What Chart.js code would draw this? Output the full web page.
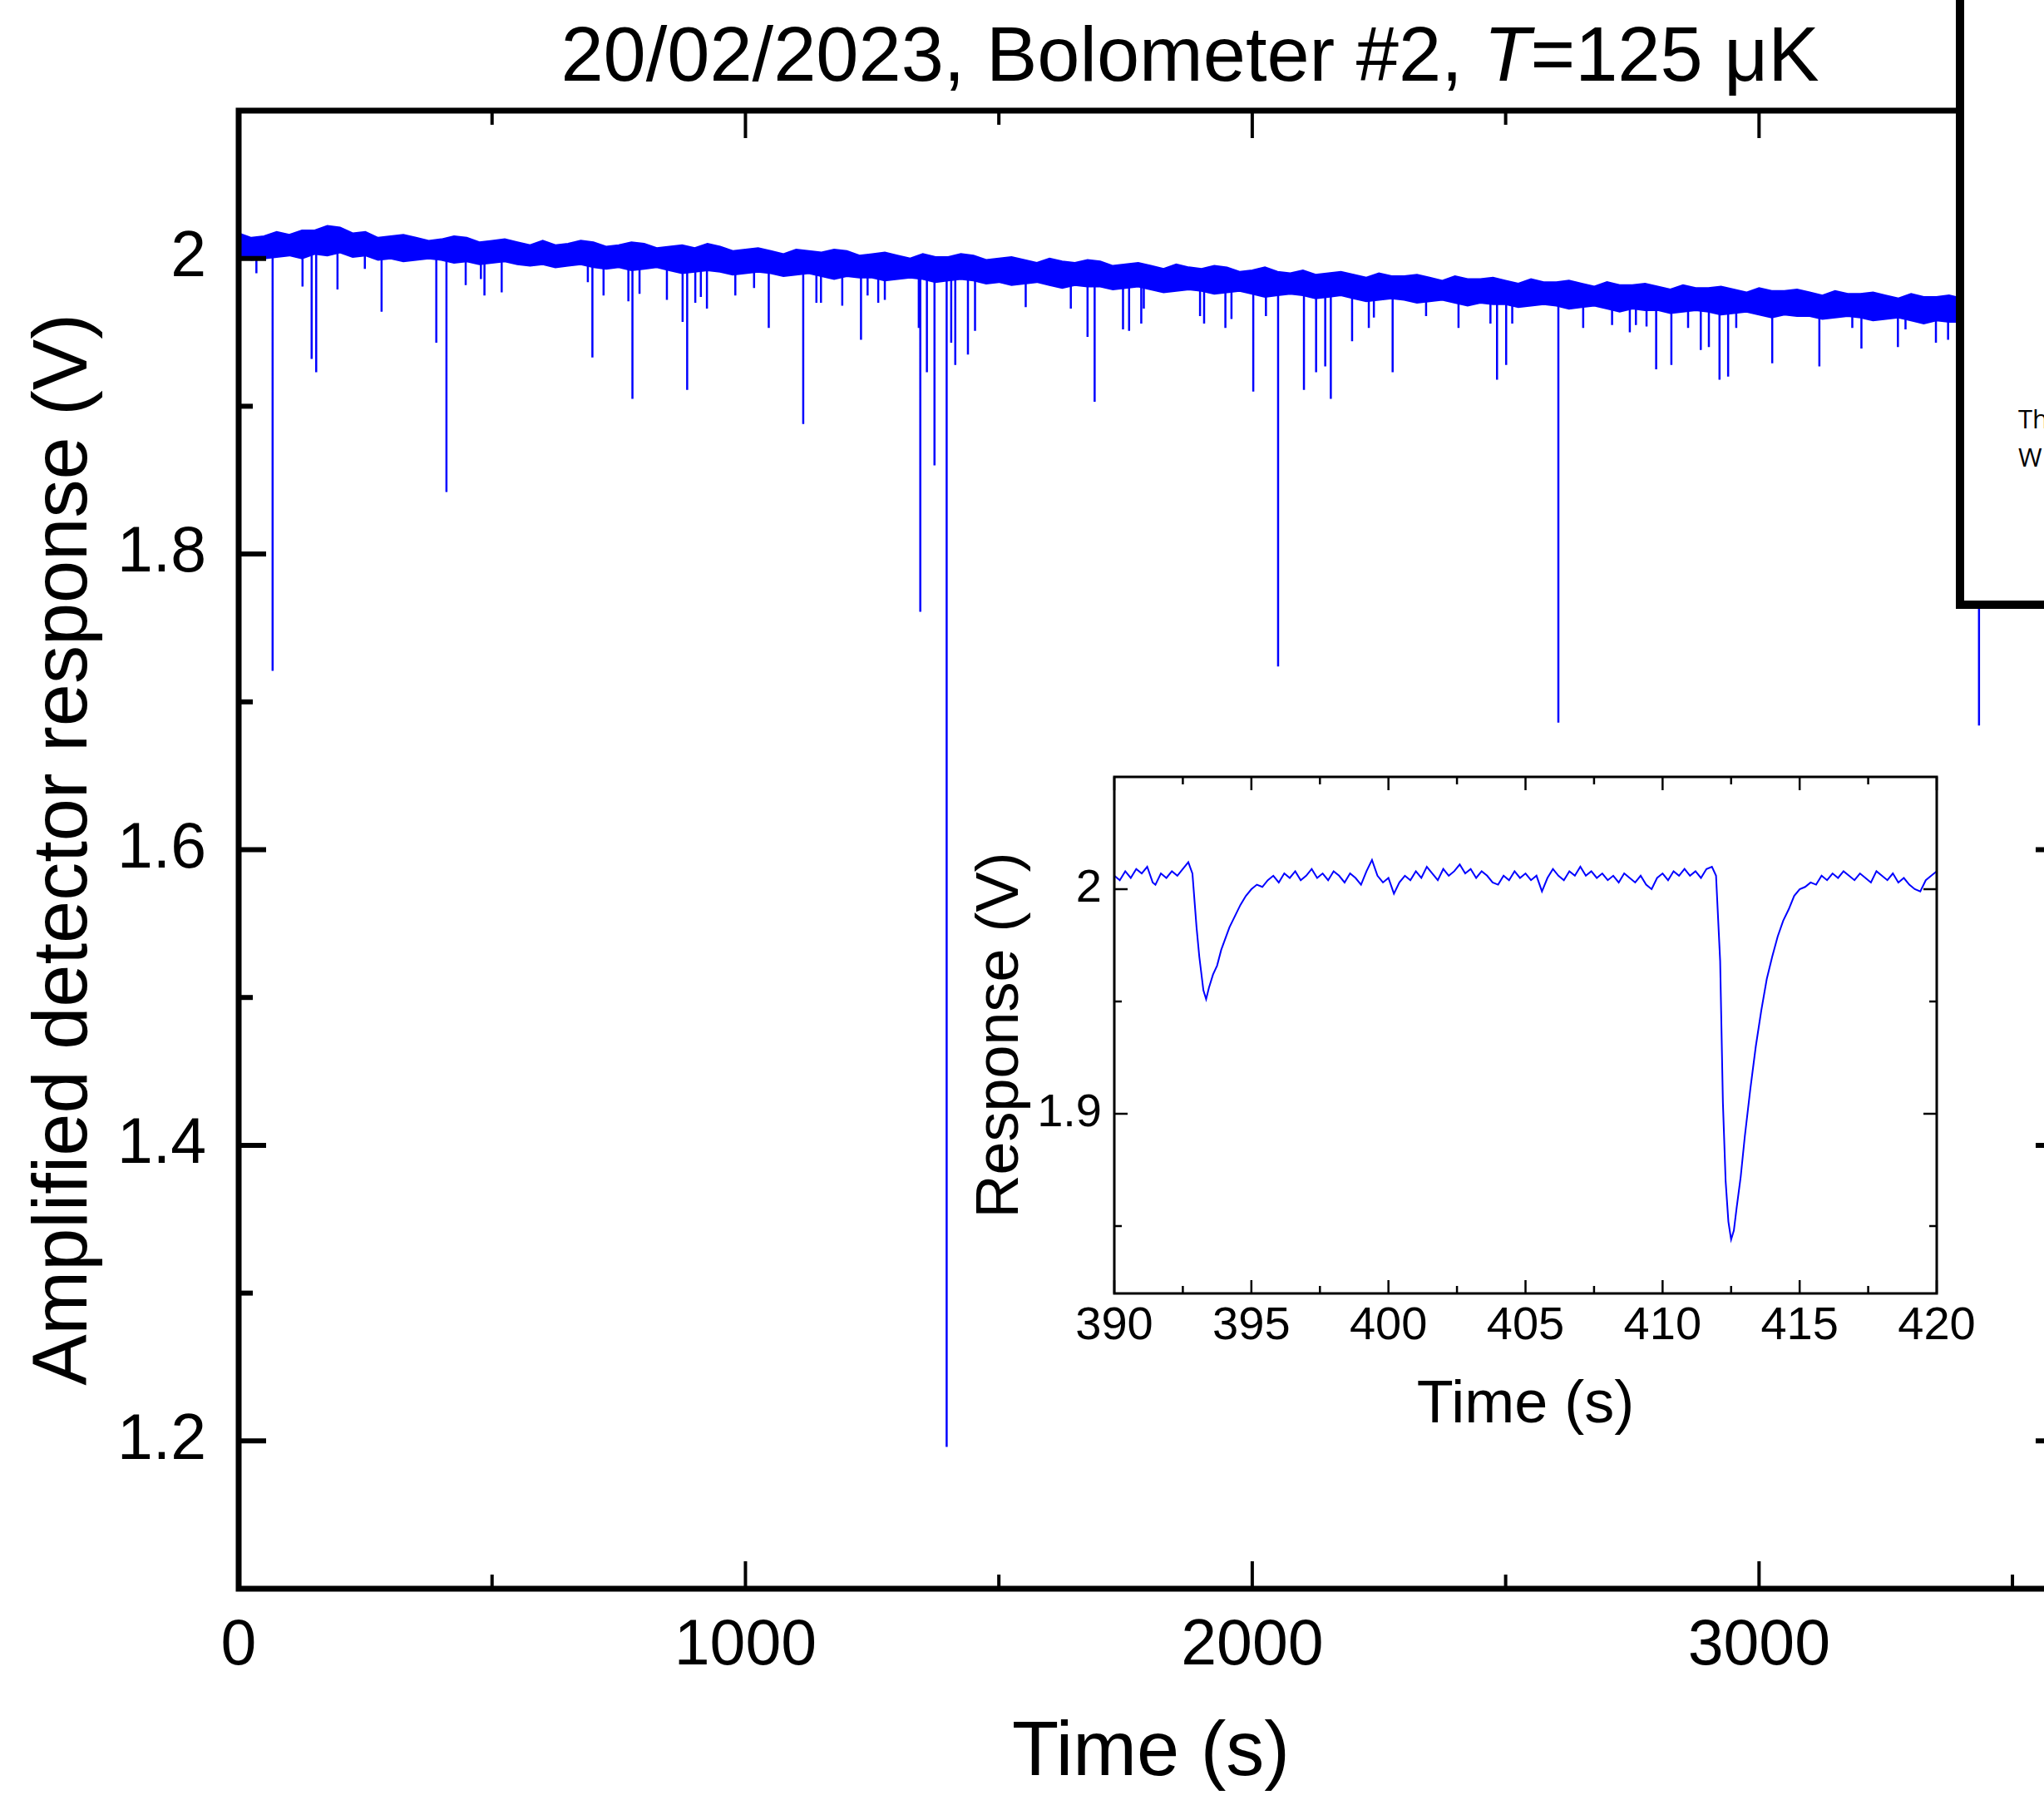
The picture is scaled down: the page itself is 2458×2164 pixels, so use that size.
<!DOCTYPE html>
<html>
<head>
<meta charset="utf-8">
<script src="https://cdn.jsdelivr.net/npm/chart.js@4.4.1/dist/chart.umd.min.js"></script>
<style>
  html, body { margin: 0; padding: 0; background: #fff; }
  body { width: 2458px; height: 2164px; overflow: hidden; position: relative; font-family: "Liberation Sans", Arial, sans-serif; }
  #mainChart { position: absolute; left: 0; top: 0; }
  #insetChart { position: absolute; left: 1160px; top: 900px; }
  #title { position: absolute; left: 0; top: 19px; width: 2862px; text-align: center; font-size: 92px; line-height: 92px; white-space: nowrap; color: #000; }
  #popup { position: absolute; left: 2352px; top: -20px; width: 200px; height: 752px; box-sizing: border-box; border: 10px solid #000; background: #fff;
           font-family: "Open Sans", sans-serif; font-size: 31px; line-height: 46px; padding: 490px 0 0 65px; white-space: nowrap; overflow: hidden; color: #000; }
</style>
</head>
<body>
<canvas id="mainChart" width="2520" height="2164" style="width:2520px;height:2164px"></canvas>
<canvas id="insetChart" width="1260" height="850" style="width:1260px;height:850px"></canvas>
<div id="title">20/02/2023, Bolometer #2, <i>T</i>=125 μK</div>
<div id="popup">Th<br>W</div>
<script>
// noise band of the long record (upper and lower edge)
const bandT = [0, 25, 50, 75, 100, 125, 150, 175, 200, 225, 250, 275, 300, 325, 350, 375, 400, 425, 450, 475,
  500, 525, 550, 575, 600, 625, 650, 675, 700, 725, 750, 775, 800, 825, 850, 875, 900, 925, 950, 975,
  1000, 1025, 1050, 1075, 1100, 1125, 1150, 1175, 1200, 1225, 1250, 1275, 1300, 1325, 1350, 1375, 1400, 1425, 1450, 1475,
  1500, 1525, 1550, 1575, 1600, 1625, 1650, 1675, 1700, 1725, 1750, 1775, 1800, 1825, 1850, 1875, 1900, 1925, 1950, 1975,
  2000, 2025, 2050, 2075, 2100, 2125, 2150, 2175, 2200, 2225, 2250, 2275, 2300, 2325, 2350, 2375, 2400, 2425, 2450, 2475,
  2500, 2525, 2550, 2575, 2600, 2625, 2650, 2675, 2700, 2725, 2750, 2775, 2800, 2825, 2850, 2875, 2900, 2925, 2950, 2975,
  3000, 3025, 3050, 3075, 3100, 3125, 3150, 3175, 3200, 3225, 3250, 3275, 3300, 3325, 3350, 3375, 3400, 3425, 3450, 3475,
  3500, 3525, 3550];
const bandUpper = [2.017, 2.014, 2.015, 2.018, 2.016, 2.019, 2.019, 2.022, 2.021, 2.017, 2.018, 2.014, 2.015, 2.016, 2.014, 2.012, 2.013, 2.015, 2.014, 2.011,
  2.012, 2.013, 2.011, 2.009, 2.012, 2.009, 2.010, 2.012, 2.011, 2.008, 2.009, 2.011, 2.010, 2.007, 2.008, 2.009, 2.007, 2.010, 2.008, 2.005,
  2.006, 2.007, 2.005, 2.003, 2.006, 2.005, 2.004, 2.006, 2.005, 2.002, 2.003, 2.004, 2.002, 2.000, 2.003, 2.001, 2.001, 2.003, 2.002, 1.999,
  2.000, 2.001, 1.999, 1.997, 2.000, 1.998, 1.997, 1.999, 1.998, 1.995, 1.996, 1.997, 1.995, 1.993, 1.996, 1.994, 1.993, 1.995, 1.994, 1.991,
  1.992, 1.994, 1.991, 1.990, 1.992, 1.989, 1.990, 1.991, 1.989, 1.987, 1.990, 1.988, 1.988, 1.989, 1.987, 1.985, 1.988, 1.986, 1.986, 1.987,
  1.985, 1.983, 1.986, 1.984, 1.984, 1.985, 1.983, 1.981, 1.984, 1.982, 1.982, 1.983, 1.981, 1.979, 1.982, 1.980, 1.980, 1.981, 1.979, 1.977,
  1.980, 1.978, 1.978, 1.979, 1.977, 1.975, 1.978, 1.976, 1.976, 1.977, 1.975, 1.973, 1.976, 1.974, 1.974, 1.975, 1.973, 1.971, 1.974, 1.972,
  1.972, 1.973, 1.971];
const bandLower = [2.001, 1.999, 2.000, 2.001, 2.002, 2.000, 2.003, 2.002, 2.004, 2.001, 2.002, 1.999, 2.000, 1.998, 1.999, 2.000, 1.999, 1.997, 1.998, 1.996,
  1.997, 1.998, 1.996, 1.995, 1.996, 1.994, 1.995, 1.996, 1.994, 1.993, 1.994, 1.992, 1.993, 1.994, 1.992, 1.990, 1.991, 1.992, 1.991, 1.989,
  1.990, 1.991, 1.990, 1.988, 1.989, 1.990, 1.988, 1.986, 1.988, 1.987, 1.987, 1.985, 1.986, 1.987, 1.986, 1.984, 1.985, 1.986, 1.985, 1.983,
  1.984, 1.982, 1.983, 1.984, 1.982, 1.980, 1.982, 1.981, 1.981, 1.979, 1.980, 1.981, 1.979, 1.977, 1.978, 1.979, 1.978, 1.976, 1.977, 1.978,
  1.976, 1.974, 1.975, 1.976, 1.975, 1.973, 1.974, 1.975, 1.973, 1.971, 1.972, 1.973, 1.972, 1.970, 1.971, 1.972, 1.970, 1.968, 1.970, 1.969,
  1.969, 1.967, 1.968, 1.969, 1.968, 1.966, 1.967, 1.968, 1.966, 1.964, 1.966, 1.965, 1.965, 1.963, 1.964, 1.965, 1.964, 1.962, 1.963, 1.964,
  1.962, 1.960, 1.962, 1.961, 1.961, 1.959, 1.960, 1.961, 1.960, 1.958, 1.959, 1.960, 1.958, 1.956, 1.958, 1.957, 1.957, 1.955, 1.956, 1.957,
  1.956, 1.954, 1.955];

// downward pulses: time, level inside the band, lowest value
const spikeT = [35, 67, 126, 144, 153, 195, 249, 282, 390, 410, 448, 478, 485, 519, 689, 698, 720, 769, 777, 791,
  845, 876, 885, 901, 912, 924, 980, 1017, 1046, 1114, 1140, 1149, 1191, 1228, 1241, 1262, 1275, 1342, 1345, 1358,
  1373, 1397, 1406, 1414, 1439, 1453, 1553, 1642, 1675, 1689, 1745, 1757, 1781, 1786, 1897, 1905, 1947, 1959, 2002, 2027,
  2051, 2102, 2126, 2144, 2155, 2197, 2230, 2240, 2277, 2343, 2407, 2470, 2483, 2501, 2513, 2604, 2653, 2710, 2745, 2757,
  2778, 2797, 2827, 2860, 2885, 2901, 2922, 2939, 2955, 3026, 3119, 3184, 3202, 3274, 3289, 3349, 3373, 3434];
const spikeTop = [2.004, 2.004, 2.006, 2.007, 2.007, 2.008, 2.006, 2.005, 2.004, 2.004, 2.003, 2.002, 2.002, 2.002, 2.000, 2.000, 2.000, 1.999, 1.999, 1.999,
  1.998, 1.998, 1.998, 1.997, 1.997, 1.997, 1.996, 1.996, 1.995, 1.995, 1.994, 1.994, 1.994, 1.993, 1.993, 1.993, 1.993, 1.992, 1.992, 1.992,
  1.992, 1.991, 1.991, 1.991, 1.991, 1.991, 1.990, 1.988, 1.988, 1.988, 1.987, 1.987, 1.987, 1.987, 1.985, 1.985, 1.985, 1.984, 1.984, 1.984,
  1.983, 1.983, 1.982, 1.982, 1.982, 1.981, 1.981, 1.981, 1.980, 1.979, 1.978, 1.977, 1.977, 1.977, 1.977, 1.976, 1.975, 1.974, 1.974, 1.974,
  1.973, 1.973, 1.973, 1.972, 1.972, 1.972, 1.971, 1.971, 1.971, 1.970, 1.969, 1.968, 1.968, 1.967, 1.967, 1.966, 1.966, 1.965];
const spikeMin = [1.990, 1.721, 1.981, 1.932, 1.923, 1.979, 1.993, 1.964, 1.943, 1.842, 1.982, 1.986, 1.975, 1.977, 1.984, 1.933, 1.975, 1.971, 1.905, 1.976,
  1.972, 1.957, 1.911, 1.970, 1.974, 1.966, 1.975, 1.980, 1.953, 1.888, 1.970, 1.970, 1.968, 1.945, 1.975, 1.970, 1.972, 1.953, 1.761, 1.923,
  1.860, 1.196, 1.943, 1.928, 1.935, 1.951, 1.967, 1.966, 1.947, 1.903, 1.952, 1.951, 1.956, 1.966, 1.961, 1.956, 1.953, 1.959, 1.910, 1.961,
  1.724, 1.911, 1.923, 1.927, 1.905, 1.944, 1.953, 1.960, 1.923, 1.961, 1.953, 1.956, 1.918, 1.928, 1.956, 1.686, 1.953, 1.955, 1.950, 1.955,
  1.954, 1.925, 1.928, 1.953, 1.938, 1.940, 1.918, 1.920, 1.953, 1.929, 1.927, 1.953, 1.939, 1.940, 1.952, 1.943, 1.945, 1.684];

const mainXTicks = [0, 1000, 2000, 3000];
const mainXMinor = [500, 1500, 2500, 3500];
const mainYTicks = [1.2, 1.4, 1.6, 1.8, 2];
const mainYMinor = [1.3, 1.5, 1.7, 1.9];

// inset: zoom on 390-420 s
const insetT = [390.0, 390.2, 390.4, 390.6, 390.8, 391.0, 391.2, 391.4, 391.5, 391.7, 391.9, 392.1, 392.3, 392.5, 392.7, 392.85,
  393.0, 393.1, 393.25, 393.35, 393.45, 393.6, 393.75, 393.9, 394.05, 394.2, 394.4, 394.6, 394.8, 395.0, 395.2, 395.4, 395.6, 395.8,
  396.0, 396.2, 396.4, 396.6, 396.8, 397.0, 397.2, 397.4, 397.6, 397.8, 398.0, 398.2, 398.4, 398.6, 398.8, 399.0, 399.2, 399.4, 399.6, 399.8,
  400.0, 400.2, 400.4, 400.6, 400.8, 401.0, 401.2, 401.4, 401.6, 401.8, 402.0, 402.2, 402.4, 402.6, 402.8, 403.0, 403.2, 403.4, 403.6, 403.8,
  404.0, 404.2, 404.4, 404.6, 404.8, 405.0, 405.2, 405.4, 405.6, 405.8, 406.0, 406.2, 406.4, 406.6, 406.8, 407.0, 407.2, 407.4, 407.6, 407.8,
  408.0, 408.2, 408.4, 408.6, 408.8, 409.0, 409.2, 409.4, 409.6, 409.8, 410.0, 410.2, 410.4, 410.6, 410.8, 411.0, 411.2, 411.4, 411.6, 411.8, 411.95,
  412.1, 412.2, 412.3, 412.4, 412.5, 412.6, 412.7, 412.85, 413.0, 413.2, 413.4, 413.6, 413.8, 414.0, 414.2, 414.4, 414.6, 414.8,
  415.0, 415.2, 415.4, 415.6, 415.8, 416.0, 416.2, 416.4, 416.6, 416.8, 417.0, 417.2, 417.4, 417.6, 417.8, 418.0, 418.2, 418.4, 418.6, 418.8,
  419.0, 419.2, 419.4, 419.6, 419.8, 420.0];
const insetV = [2.006, 2.004, 2.008, 2.005, 2.009, 2.007, 2.010, 2.003, 2.002, 2.007, 2.005, 2.008, 2.006, 2.009, 2.012, 2.007,
  1.983, 1.970, 1.955, 1.951, 1.956, 1.962, 1.966, 1.973, 1.978, 1.983, 1.988, 1.993, 1.997, 2.000, 2.002, 2.001, 2.004, 2.006,
  2.003, 2.007, 2.005, 2.008, 2.004, 2.006, 2.009, 2.005, 2.007, 2.004, 2.008, 2.006, 2.003, 2.007, 2.005, 2.002, 2.008, 2.013, 2.006, 2.003,
  2.005, 1.998, 2.003, 2.006, 2.004, 2.008, 2.005, 2.010, 2.007, 2.004, 2.009, 2.006, 2.008, 2.011, 2.007, 2.009, 2.005, 2.008, 2.006, 2.003,
  2.002, 2.006, 2.004, 2.008, 2.005, 2.007, 2.004, 2.006, 1.999, 2.005, 2.009, 2.006, 2.004, 2.008, 2.006, 2.010, 2.006, 2.008, 2.005, 2.007,
  2.004, 2.006, 2.003, 2.007, 2.005, 2.003, 2.006, 2.002, 2.000, 2.005, 2.007, 2.004, 2.008, 2.006, 2.009, 2.006, 2.008, 2.005, 2.009, 2.010, 2.006,
  1.968, 1.905, 1.870, 1.852, 1.844, 1.848, 1.858, 1.872, 1.890, 1.911, 1.930, 1.946, 1.960, 1.970, 1.979, 1.986, 1.991, 1.997,
  2.000, 2.001, 2.003, 2.002, 2.006, 2.004, 2.007, 2.005, 2.008, 2.006, 2.004, 2.007, 2.005, 2.003, 2.008, 2.006, 2.004, 2.007, 2.003, 2.005,
  2.002, 2.000, 1.999, 2.004, 2.006, 2.008];

const insetXTicks = [390, 395, 400, 405, 410, 415, 420];
const insetXMinor = [392.5, 397.5, 402.5, 407.5, 412.5, 417.5];
const insetYTicks = [1.9, 2];
const insetYMinor = [1.85, 1.95];

const BLUE = "rgb(0, 0, 255)";
const FONT = "'Liberation Sans', Arial, sans-serif";

// Origin-style frame with inward ticks on all four sides
function frameTicks(cfg) {
    return {
        id: "frameTicks",
        afterDatasetsDraw(chart) {
            const { ctx, chartArea: a, scales } = chart;
            const sx = scales.x, sy = scales.y;
            const seg = (x1, y1, x2, y2, w) => {
                ctx.lineWidth = w;
                ctx.beginPath();
                ctx.moveTo(x1, y1);
                ctx.lineTo(x2, y2);
                ctx.stroke();
            };
            ctx.save();
            ctx.strokeStyle = "#000";
            ctx.lineCap = "butt";
            cfg.xMajor.forEach(v => {
                const p = sx.getPixelForValue(v);
                seg(p, a.bottom, p, a.bottom - cfg.major, cfg.xw);
                seg(p, a.top, p, a.top + cfg.major, cfg.xw);
            });
            cfg.xMinor.forEach(v => {
                const p = sx.getPixelForValue(v);
                seg(p, a.bottom, p, a.bottom - cfg.minor, cfg.xw);
                seg(p, a.top, p, a.top + cfg.minor, cfg.xw);
            });
            cfg.yMajor.forEach(v => {
                const p = sy.getPixelForValue(v);
                seg(a.left, p, a.left + cfg.major, p, cfg.yw);
                seg(a.right, p, a.right - cfg.major, p, cfg.yw);
            });
            cfg.yMinor.forEach(v => {
                const p = sy.getPixelForValue(v);
                seg(a.left, p, a.left + cfg.minor, p, cfg.yw);
                seg(a.right, p, a.right - cfg.minor, p, cfg.yw);
            });
            ctx.lineWidth = cfg.frame;
            ctx.strokeRect(a.left, a.top, a.right - a.left, a.bottom - a.top);
            ctx.restore();
        }
    };
}

// fixed axis boxes, no extra room for overhanging labels
const fixX = h => s => { s.height = h; s.paddingLeft = 0; s.paddingRight = 0; };
const fixY = w => s => { s.width = w; s.paddingTop = 0; s.paddingBottom = 0; };

Chart.defaults.font.family = FONT;
Chart.defaults.color = "#000";

const bandUpperPts = bandT.map((t, i) => ({ x: t, y: bandUpper[i] }));
const bandLowerPts = bandT.map((t, i) => ({ x: t, y: bandLower[i] }));
const spikePts = [];
spikeT.forEach((t, i) => {
    spikePts.push({ x: t, y: spikeTop[i] }, { x: t, y: spikeMin[i] }, { x: t, y: null });
});

new Chart(document.getElementById("mainChart").getContext("2d"), {
    type: "line",
    data: {
        datasets: [
            { data: bandUpperPts, borderColor: BLUE, backgroundColor: BLUE, borderWidth: 2, fill: "+1", pointRadius: 0, tension: 0 },
            { data: bandLowerPts, borderColor: BLUE, borderWidth: 2, fill: false, pointRadius: 0, tension: 0 },
            { data: spikePts, borderColor: BLUE, borderWidth: 2.5, fill: false, pointRadius: 0, spanGaps: false, tension: 0 }
        ]
    },
    options: {
        responsive: false,
        animation: false,
        devicePixelRatio: 1,
        layout: { padding: { left: 0, right: 39, top: 133, bottom: 0 } },
        plugins: { legend: { display: false }, tooltip: { enabled: false } },
        scales: {
            x: {
                type: "linear", min: 0, max: 3600,
                grid: { display: false, drawTicks: false }, border: { display: false },
                afterBuildTicks: s => { s.ticks = mainXTicks.map(v => ({ value: v })); },
                afterFit: fixX(254),
                ticks: { autoSkip: false, maxRotation: 0, padding: 24, font: { size: 77 }, callback: v => String(v) },
                title: { display: true, text: "Time (s)", font: { size: 92 }, padding: { top: 0, bottom: 0 } }
            },
            y: {
                min: 1.1, max: 2.1,
                grid: { display: false, drawTicks: false }, border: { display: false },
                afterBuildTicks: s => { s.ticks = mainYTicks.map(v => ({ value: v })); },
                afterFit: fixY(287),
                ticks: { padding: 39, font: { size: 77 }, callback: v => String(v) },
                title: { display: true, text: "Amplified detector response (V)", font: { size: 92 }, padding: { top: 23, bottom: 0 } }
            }
        }
    },
    plugins: [frameTicks({ xMajor: mainXTicks, xMinor: mainXMinor, yMajor: mainYTicks, yMinor: mainYMinor,
                           major: 33, minor: 17, xw: 4, yw: 6, frame: 7 })]
});

new Chart(document.getElementById("insetChart").getContext("2d"), {
    type: "line",
    data: {
        datasets: [{
            data: insetT.map((t, i) => ({ x: t, y: insetV[i] })),
            borderColor: BLUE, borderWidth: 2, fill: false, pointRadius: 0, tension: 0
        }]
    },
    options: {
        responsive: false,
        animation: false,
        devicePixelRatio: 1,
        layout: { padding: { left: 0, right: 91, top: 34, bottom: 0 } },
        plugins: { legend: { display: false }, tooltip: { enabled: false } },
        scales: {
            x: {
                type: "linear", min: 390, max: 420,
                grid: { display: false, drawTicks: false }, border: { display: false },
                afterBuildTicks: s => { s.ticks = insetXTicks.map(v => ({ value: v })); },
                afterFit: fixX(195),
                ticks: { autoSkip: false, maxRotation: 0, padding: 6, font: { size: 56 }, callback: v => String(v) },
                title: { display: true, text: "Time (s)", font: { size: 72 }, padding: { top: 0, bottom: 17 } }
            },
            y: {
                min: 1.82, max: 2.05,
                grid: { display: false, drawTicks: false }, border: { display: false },
                afterBuildTicks: s => { s.ticks = insetYTicks.map(v => ({ value: v })); },
                afterFit: fixY(180),
                ticks: { padding: 15, font: { size: 56 }, callback: v => String(v) },
                title: { display: true, text: "Response (V)", font: { size: 72 }, padding: { top: 1, bottom: 0 } }
            }
        }
    },
    plugins: [frameTicks({ xMajor: insetXTicks, xMinor: insetXMinor, yMajor: insetYTicks, yMinor: insetYMinor,
                           major: 16, minor: 9, xw: 2.5, yw: 2.5, frame: 3 })]
});
</script>
</body>
</html>
